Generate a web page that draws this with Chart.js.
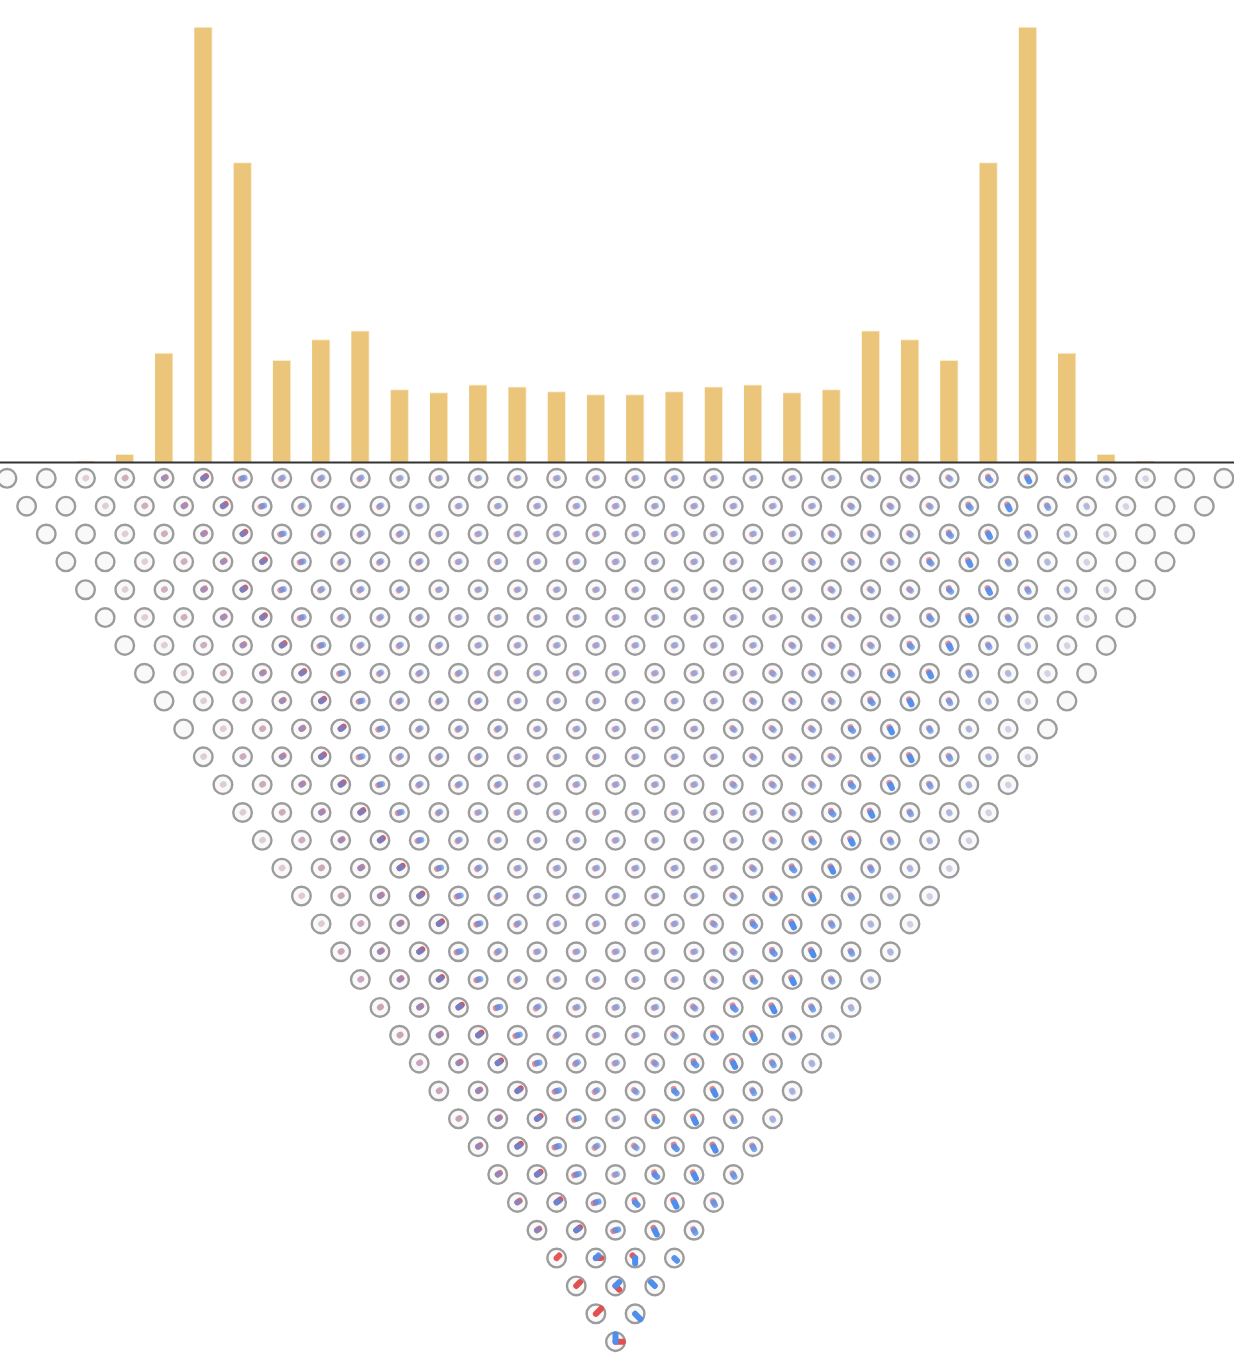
<!DOCTYPE html>
<html>
<head>
<meta charset="utf-8">
<script src="https://cdn.jsdelivr.net/npm/chart.js@4.4.1/dist/chart.umd.min.js"></script>
<style>
  html, body { margin: 0; padding: 0; background: #fff; }
  #wrap { position: relative; width: 1234px; height: 1360px; }
  #bars { position: absolute; left: 0; top: 0; }
  #walk { position: absolute; left: 0; top: 465px; }
</style>
</head>
<body>
<div id="wrap">
  <canvas id="bars" width="1234" height="465" style="width:1234px;height:465px"></canvas>
  <canvas id="walk" width="1234" height="895" style="width:1234px;height:895px"></canvas>
</div>
<script>
// positions of the last row (bars sit on them)
const positions = [0, 1, 2, 3, 4, 5, 6, 7, 8, 9, 10, 11, 12, 13, 14, 15,
                   16, 17, 18, 19, 20, 21, 22, 23, 24, 25, 26, 27, 28, 29, 30, 31];
// probability at each position
const probability = [0, 0, 0.0002, 0.0023, 0.0331, 0.1321, 0.0909, 0.0309,
                     0.0372, 0.0398, 0.0220, 0.0211, 0.0234, 0.0228, 0.0214, 0.0205,
                     0.0205, 0.0214, 0.0228, 0.0234, 0.0211, 0.0220, 0.0398, 0.0372,
                     0.0309, 0.0909, 0.1321, 0.0331, 0.0023, 0.0002, 0, 0];

// one string per row (top row first), one character per node = what the node shows
const nodeStates = [
  "..,irRmkkkppppppppppppKKKMBbj;..",
  "..,irRmkkkpppppppppppKKKMBbj;..",
  "..,irRmkkkppppppppppKKKMBbj;..",
  "..,irRmkkkpppppppppKKKMBbj;..",
  ".,irRmkkkppppppppppKKKMBbj;.",
  ".,irRmkkkpppppppppKKKMBbj;.",
  ".,irRmkkkppppppppKKKMBbj;.",
  ".,irRmkkkpppppppKKKMBbj;.",
  ".,irRmkkkppppppKKKMBbj;.",
  ".,irRmkkkpppppKKKMBbj;.",
  ",irRmkkkppppppKKKMBbj;",
  ",irRmkkkpppppKKKMBbj;",
  ",irRmkppppppppKMBbj;",
  ",irRmkpppppppKMBbj;",
  ",irRmkppppppKMBbj;",
  ",irRmkpppppKMBbj;",
  ",irRmkppppKMBbj;",
  "irRmkpppppKMBbj",
  "irRmkppppKMBbj",
  "irRmkpppKMBbj",
  "irRmkppKMBbj",
  "irRmkpKMBbj",
  "irRmkKMBbj",
  "irRmpMBbj",
  "rRmkKMBb",
  "rRmpMBb",
  "rRmMBb",
  "rRmBb",
  "STUV",
  "HIJ",
  "FG",
  "E"
];
// largest amplitude seen in each row (top row first)
const rowScale = [0.33, 0.33, 0.33, 0.33, 0.33, 0.33, 0.33, 0.33,
                  0.35, 0.35, 0.35, 0.35, 0.35, 0.35,
                  0.37, 0.37, 0.37, 0.37, 0.37,
                  0.40, 0.40, 0.40, 0.40,
                  0.42, 0.42, 0.42,
                  0.45, 0.45,
                  0.5, 0.5,
                  0.707, 0.707];
// node kinds: [red amount, red angle, blue amount, blue angle]
const markTypes = {
  ',': [0.12, 35, 0.05, 30],
  'i': [0.3, 35, 0.12, 30],
  'r': [0.6, 35, 0.35, 30],
  'R': [1, 38, 0.6, 30],
  'm': [0.5, 200, 0.6, 15],
  'k': [0.38, 220, 0.45, 30],
  'p': [0.3, 200, 0.38, 20],
  ';': [0.05, -60, 0.12, -62],
  'j': [0.12, 120, 0.3, -62],
  'b': [0.35, 120, 0.6, -62],
  'B': [0.55, 118, 1, -64],
  'M': [0.5, 105, 0.75, -45],
  'K': [0.38, 140, 0.45, -40],
  'E': [1, 0, 1, 90],
  'F': [1, 45, 0, 0],
  'G': [0, 0, 1, -45],
  'H': [1, 45, 0, 0],
  'I': [1, -45, 1, 45],
  'J': [0, 0, 1, 135],
  'S': [0.7, 45, 0, 0],
  'T': [1, 0, 0.7, 45],
  'U': [0.7, 135, 1, -90],
  'V': [0, 0, 0.7, -45]
};

const RED = "225,80,80";
const BLUE = "80,142,235";
const xMin = -0.1783, xMax = 31.2547;

const baseline = {
  id: "baseline",
  afterDatasetsDraw(chart) {
    const { ctx, chartArea: { left, right }, scales: { y } } = chart;
    const y0 = y.getPixelForValue(0) + 0.5;
    ctx.save();
    ctx.strokeStyle = "#333";
    ctx.lineWidth = 2;
    ctx.beginPath();
    ctx.moveTo(left, y0);
    ctx.lineTo(right, y0);
    ctx.stroke();
    ctx.restore();
  }
};

new Chart(document.getElementById("bars"), {
  type: "bar",
  data: {
    datasets: [{
      data: positions.map((p, i) => ({ x: p, y: probability[i] })),
      backgroundColor: "#ebc57a",
      borderColor: "rgba(250,236,205,1)",
      borderWidth: { top: 1, right: 1, left: 0, bottom: 0 },
      borderSkipped: false,
      barThickness: 18
    }]
  },
  options: {
    animation: false,
    responsive: false,
    events: [],
    layout: { autoPadding: false, padding: { top: 27, bottom: 3, left: 0, right: 0 } },
    scales: {
      x: { type: "linear", min: xMin, max: xMax, offset: false, display: false },
      y: { min: 0, max: 0.1321, display: false }
    },
    plugins: { legend: { display: false }, tooltip: { enabled: false } }
  },
  plugins: [baseline]
});

// one arm per coin component: from the node centre, angle = phase, length = amplitude
function drawArm(ctx, cx, cy, amp, deg, rgb) {
  if (amp <= 0) return;
  const len = Math.max(0.8, amp * 10.5);
  const a = deg * Math.PI / 180;
  ctx.strokeStyle = "rgba(" + rgb + "," + Math.min(1, 2.0 * Math.pow(amp, 0.7)) + ")";
  ctx.beginPath();
  ctx.moveTo(cx, cy);
  ctx.lineTo(cx + len * Math.cos(a), cy - len * Math.sin(a));
  ctx.stroke();
}

const walkMarks = {
  id: "walkMarks",
  afterDatasetsDraw(chart) {
    const { ctx, scales: { x, y } } = chart;
    ctx.save();
    ctx.lineCap = "round";
    ctx.lineWidth = 6;
    ctx.filter = "blur(0.4px)";
    nodeStates.forEach((row, r) => {
      row.split("").forEach((code, j) => {
        const m = markTypes[code];
        if (!m) return;
        const cx = x.getPixelForValue(j + r / 2);
        const cy = y.getPixelForValue(r);
        drawArm(ctx, cx, cy, m[0] * rowScale[r], m[1], RED);
        drawArm(ctx, cx, cy, m[2] * rowScale[r], m[3], BLUE);
      });
    });
    ctx.restore();
  }
};

const nodes = [];
nodeStates.forEach((row, r) => {
  for (let j = 0; j < row.length; j++) nodes.push({ x: j + r / 2, y: r });
});

new Chart(document.getElementById("walk"), {
  type: "scatter",
  data: {
    datasets: [{
      data: nodes,
      pointStyle: "circle",
      pointRadius: 9.3,
      borderWidth: 2.4,
      borderColor: "#9c9c9c",
      backgroundColor: "#f9f9f9",
      clip: false
    }]
  },
  options: {
    animation: false,
    responsive: false,
    events: [],
    layout: { autoPadding: false, padding: 0 },
    scales: {
      x: { type: "linear", min: xMin, max: xMax, display: false },
      y: { type: "linear", reverse: true, min: -0.4776, max: 31.659, display: false }
    },
    plugins: { legend: { display: false }, tooltip: { enabled: false } }
  },
  plugins: [walkMarks]
});
</script>
</body>
</html>
